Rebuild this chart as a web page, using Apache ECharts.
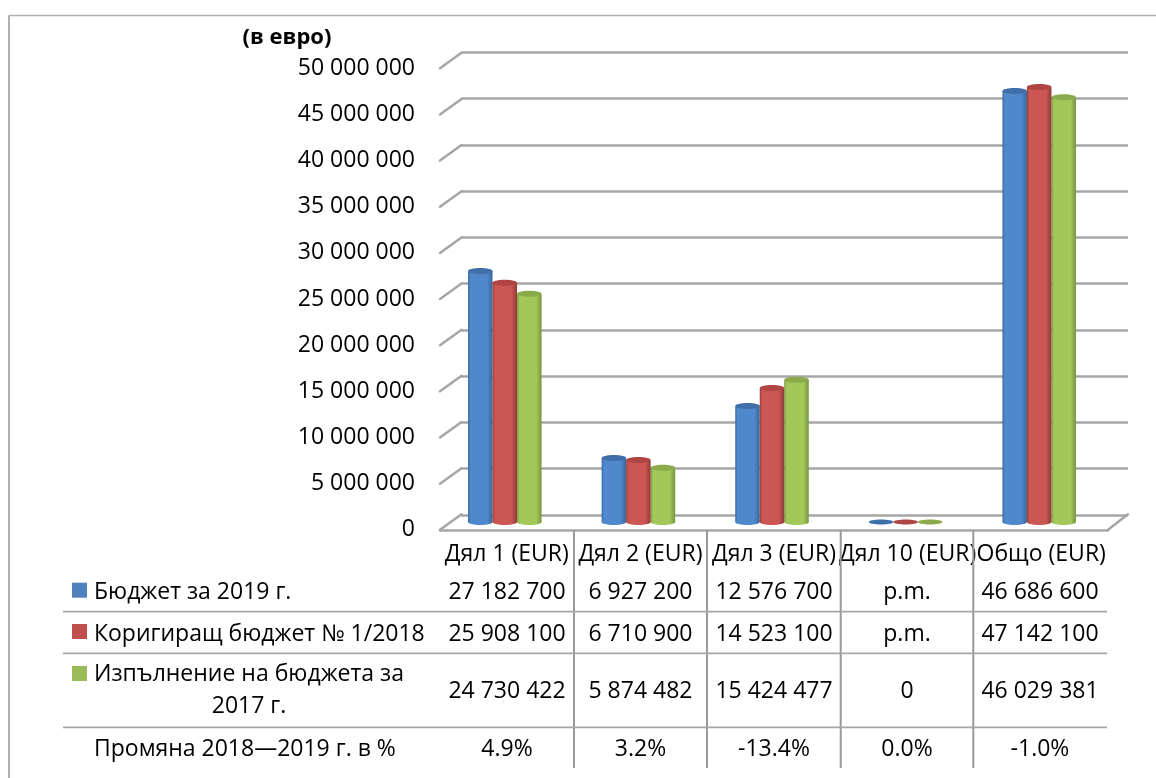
<!DOCTYPE html>
<html><head><meta charset="utf-8">
<style>html,body{margin:0;padding:0;background:#fff}#c{width:1156px;height:778px}</style>
<script src="https://cdn.jsdelivr.net/npm/echarts@6/dist/echarts.min.js"></script>
</head><body><div id="c"></div>
<script>
const categories = ['Дял 1 (EUR)','Дял 2 (EUR)','Дял 3 (EUR)','Дял 10 (EUR)','Общо (EUR)'];
const budget2019 = [27182700,6927200,12576700,0,46686600];
const amending2018 = [25908100,6710900,14523100,0,47142100];
const execution2017 = [24730422,5874482,15424477,0,46029381];
const budget2019Text = ['27 182 700','6 927 200','12 576 700','p.m.','46 686 600'];
const amending2018Text = ['25 908 100','6 710 900','14 523 100','p.m.','47 142 100'];
const execution2017Text = ['24 730 422','5 874 482','15 424 477','0','46 029 381'];
const changeText = ['4.9%','3.2%','-13.4%','0.0%','-1.0%'];
const yTicks = [0,5000000,10000000,15000000,20000000,25000000,30000000,35000000,40000000,45000000,50000000];
const seriesNames = ['Бюджет за 2019 г.','Коригиращ бюджет № 1/2018','Изпълнение на бюджета за','2017 г.','Промяна 2018—2019 г. в %'];
const unitTitle = '(в евро)';

const FONT = '"Open Sans"', FS = 23, GRAY = '#a6a6a6', TY = 1.5;
const palettes = [
  {edge:'#3c6aa0', mid:'#5089cb', top:'#3f6ea8'},
  {edge:'#943f3c', mid:'#cb5653', top:'#b04643'},
  {edge:'#7c9a42', mid:'#a3c85a', top:'#8aaa4c'}
];
const fmt = v => String(v).replace(/\B(?=(\d{3})+$)/g,' ');

function cylinder(idx, values){
  const p = palettes[idx];
  return {
    type:'custom', name:seriesNames[idx], xAxisIndex:2, yAxisIndex:2, z:5+(idx===1?1:0),
    data: values.map((v,i)=>[i,v]),
    renderItem(params, api){
      const c = api.coord([api.value(0), api.value(1)]);
      const b = api.coord([api.value(0), 0]);
      const bw = api.size([1,0])[0]*0.1835;
      const cx = c[0]+(idx-1)*bw, rx = bw/2;
      const fill = {type:'linear',x:0,y:0,x2:1,y2:0,colorStops:[
        {offset:0,color:p.edge},{offset:0.1,color:p.mid},{offset:0.78,color:p.mid},{offset:0.97,color:p.edge},{offset:1,color:p.edge}]};
      const kids = [];
      if (api.value(1) > 0) {
        kids.push({type:'rect',shape:{x:cx-rx,y:c[1],width:bw,height:b[1]-c[1]},style:{fill}});
        kids.push({type:'ellipse',shape:{cx,cy:b[1],rx,ry:3},style:{fill}});
      }
      kids.push({type:'ellipse',shape:{cx,cy:c[1],rx,ry:api.value(1)>0?3:2.5},style:{fill:p.top}});
      return {type:'group',children:kids};
    }
  };
}

const colX = [574,707,840.7,973.3];
const colC = [507,640.5,774,907,1040];
const rowY = [590.5,632.7,690,748];
const rowTexts = [budget2019Text,amending2018Text,execution2017Text,changeText];
const txt = (t,x,y,align,bold)=>({type:'text',x,y:y+TY,z:20,style:{text:t,fill:'#000',font:(bold?'bold 22':FS)+'px '+FONT,textAlign:align,textVerticalAlign:'middle'}});
const gfx = [];
gfx.push({type:'line',z:1,shape:{x1:9,y1:778,x2:9,y2:15.5},style:{stroke:'#b0b0b0',lineWidth:2}});
gfx.push({type:'line',z:1,shape:{x1:9,y1:15.5,x2:1156,y2:15.5},style:{stroke:'#b0b0b0',lineWidth:1.5}});
colX.forEach(x=>gfx.push({type:'line',z:2,shape:{x1:x,y1:530,x2:x,y2:768},style:{stroke:'#999',lineWidth:2}}));
[611.7,653.3,727.3].forEach(y=>gfx.push({type:'line',z:2,shape:{x1:63,y1:y,x2:1107,y2:y},style:{stroke:GRAY,lineWidth:1.8}}));
palettes.forEach((p,i)=>gfx.push({type:'rect',z:10,shape:{x:72,y:[582.7,624,666][i],width:15,height:15},style:{fill:['#4f81bd','#c0504d','#9bbb59'][i]}}));
rowTexts.forEach((r,ri)=>r.forEach((t,ci)=>gfx.push(txt(t,colC[ci],rowY[ri],'center'))));
gfx.push(txt(seriesNames[0],94,590.5,'left'));
gfx.push(txt(seriesNames[1],94,632.7,'left'));
gfx.push(txt(seriesNames[2],94,673,'left'));
gfx.push(txt(seriesNames[3],249,705,'center'));
gfx.push(txt(seriesNames[4],94,748,'left'));
gfx.push(txt(unitTitle,287,36,'center',true));

const DX = 21.5, DY = -15.5;
const option = {
  animation:false, backgroundColor:'#fff',
  textStyle:{fontFamily:FONT},
  grid:[
    {left:461,width:667,top:52.3,height:462.7},
    {left:440,width:668,top:68.3,height:461.5},
    {left:438,width:668,top:60.5,height:461.5}
  ],
  xAxis:[
    {gridIndex:0,type:'category',data:categories,show:false},
    {gridIndex:1,type:'category',data:categories,
      axisLine:{lineStyle:{color:GRAY,width:2.5}},axisTick:{show:false},
      axisLabel:{color:'#000',fontSize:FS,fontFamily:FONT,margin:13,interval:0,hideOverlap:false}},
    {gridIndex:2,type:'category',data:categories,show:false}
  ],
  yAxis:[
    {gridIndex:0,type:'value',min:0,max:50000000,interval:5000000,
      axisLine:{show:false},axisTick:{show:false},axisLabel:{show:false},
      splitLine:{show:true,lineStyle:{color:GRAY,width:2.5}}},
    {gridIndex:1,type:'value',min:0,max:50000000,interval:5000000,
      axisLine:{show:false},axisTick:{show:false},splitLine:{show:false},
      axisLabel:{color:'#000',fontSize:FS,fontFamily:FONT,margin:25,padding:[7,0,0,0],formatter:fmt}},
    {gridIndex:2,type:'value',min:0,max:50000000,interval:5000000,show:false}
  ],
  graphic:gfx,
  series:[
    {type:'custom',xAxisIndex:1,yAxisIndex:1,z:3,silent:true,
      data:yTicks.map(v=>[0,v]),
      renderItem(params,api){
        const y = api.coord([0,api.value(1)])[1], x = params.coordSys.x;
        return {type:'line',shape:{x1:x,y1:y,x2:x+DX,y2:y+DY},style:{stroke:GRAY,lineWidth:2.5,lineCap:'round'}};
      }},
    {type:'custom',xAxisIndex:1,yAxisIndex:1,z:3,silent:true,
      data:[[4,0]],
      renderItem(params,api){
        const y = api.coord([0,0])[1], x = params.coordSys.x+params.coordSys.width;
        return {type:'line',shape:{x1:x,y1:y,x2:x+DX-1.5,y2:y+DY},style:{stroke:GRAY,lineWidth:2.5,lineCap:'round'}};
      }},
    cylinder(0,budget2019),
    cylinder(2,execution2017),
    cylinder(1,amending2018)
  ]
};
const chart = echarts.init(document.getElementById('c'),null,{renderer:'canvas'});
chart.setOption(option);
</script></body></html>
